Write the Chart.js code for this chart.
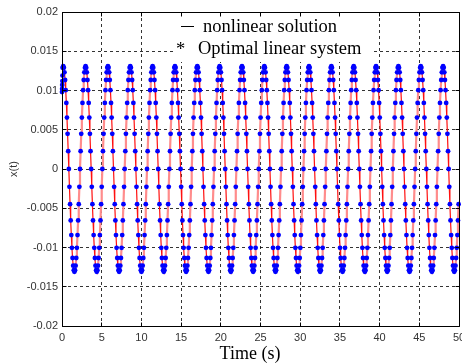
<!DOCTYPE html>
<html>
<head>
<meta charset="utf-8">
<script src="https://cdn.jsdelivr.net/npm/chart.js@4.4.1/dist/chart.umd.min.js"></script>
<style>
  html, body { margin: 0; padding: 0; background: #fff; overflow: hidden; }
  #wrap { width: 466px; height: 364px; }
</style>
</head>
<body>
<div id="wrap"><canvas id="grafico"></canvas></div>
<script>
const xTicks = [0, 5, 10, 15, 20, 25, 30, 35, 40, 45, 50];
const yTicks = [-0.02, -0.015, -0.01, -0.005, 0, 0.005, 0.01, 0.015, 0.02];
const legendLabels = ['nonlinear solution', 'Optimal linear system'];
const xTitle = 'Time (s)';
const yTitle = 'x(t)';

// first samples of the solver (dense steps right after t = 0)
const startT = [0, 0.015, 0.03, 0.045, 0.06];
const startX = [0.0098, 0.0102, 0.0107, 0.0112, 0.0119];

// response, one sample every dt seconds from t = dt
const dt = 0.078167;
const xValues = [0.0129,
0.0131,0.0129,0.01231,0.01134,0.01004,0.00842,0.00655,0.00448,0.00227,0,-0.00227,-0.00448,-0.00655,-0.00842,-0.01004,-0.01134,-0.01231,-0.0129,-0.0131,-0.0129,-0.01231,-0.01134,-0.01004,-0.00842,-0.00655,-0.00448,-0.00227,0,0.00227,0.00448,0.00655,0.00842,0.01004,0.01134,0.01231,0.0129,
0.0131,0.0129,0.01231,0.01134,0.01004,0.00842,0.00655,0.00448,0.00227,0,-0.00227,-0.00448,-0.00655,-0.00842,-0.01004,-0.01134,-0.01231,-0.0129,-0.0131,-0.0129,-0.01231,-0.01134,-0.01004,-0.00842,-0.00655,-0.00448,-0.00227,0,0.00227,0.00448,0.00655,0.00842,0.01004,0.01134,0.01231,0.0129,
0.0131,0.0129,0.01231,0.01134,0.01004,0.00842,0.00655,0.00448,0.00227,0,-0.00227,-0.00448,-0.00655,-0.00842,-0.01004,-0.01134,-0.01231,-0.0129,-0.0131,-0.0129,-0.01231,-0.01134,-0.01004,-0.00842,-0.00655,-0.00448,-0.00227,0,0.00227,0.00448,0.00655,0.00842,0.01004,0.01134,0.01231,0.0129,
0.0131,0.0129,0.01231,0.01134,0.01004,0.00842,0.00655,0.00448,0.00227,0,-0.00227,-0.00448,-0.00655,-0.00842,-0.01004,-0.01134,-0.01231,-0.0129,-0.0131,-0.0129,-0.01231,-0.01134,-0.01004,-0.00842,-0.00655,-0.00448,-0.00227,0,0.00227,0.00448,0.00655,0.00842,0.01004,0.01134,0.01231,0.0129,
0.0131,0.0129,0.01231,0.01134,0.01004,0.00842,0.00655,0.00448,0.00227,0,-0.00227,-0.00448,-0.00655,-0.00842,-0.01004,-0.01134,-0.01231,-0.0129,-0.0131,-0.0129,-0.01231,-0.01134,-0.01004,-0.00842,-0.00655,-0.00448,-0.00227,0,0.00227,0.00448,0.00655,0.00842,0.01004,0.01134,0.01231,0.0129,
0.0131,0.0129,0.01231,0.01134,0.01004,0.00842,0.00655,0.00448,0.00227,0,-0.00227,-0.00448,-0.00655,-0.00842,-0.01004,-0.01134,-0.01231,-0.0129,-0.0131,-0.0129,-0.01231,-0.01134,-0.01004,-0.00842,-0.00655,-0.00448,-0.00227,0,0.00227,0.00448,0.00655,0.00842,0.01004,0.01134,0.01231,0.0129,
0.0131,0.0129,0.01231,0.01134,0.01004,0.00842,0.00655,0.00448,0.00227,0,-0.00227,-0.00448,-0.00655,-0.00842,-0.01004,-0.01134,-0.01231,-0.0129,-0.0131,-0.0129,-0.01231,-0.01134,-0.01004,-0.00842,-0.00655,-0.00448,-0.00227,0,0.00227,0.00448,0.00655,0.00842,0.01004,0.01134,0.01231,0.0129,
0.0131,0.0129,0.01231,0.01134,0.01004,0.00842,0.00655,0.00448,0.00227,0,-0.00227,-0.00448,-0.00655,-0.00842,-0.01004,-0.01134,-0.01231,-0.0129,-0.0131,-0.0129,-0.01231,-0.01134,-0.01004,-0.00842,-0.00655,-0.00448,-0.00227,0,0.00227,0.00448,0.00655,0.00842,0.01004,0.01134,0.01231,0.0129,
0.0131,0.0129,0.01231,0.01134,0.01004,0.00842,0.00655,0.00448,0.00227,0,-0.00227,-0.00448,-0.00655,-0.00842,-0.01004,-0.01134,-0.01231,-0.0129,-0.0131,-0.0129,-0.01231,-0.01134,-0.01004,-0.00842,-0.00655,-0.00448,-0.00227,0,0.00227,0.00448,0.00655,0.00842,0.01004,0.01134,0.01231,0.0129,
0.0131,0.0129,0.01231,0.01134,0.01004,0.00842,0.00655,0.00448,0.00227,0,-0.00227,-0.00448,-0.00655,-0.00842,-0.01004,-0.01134,-0.01231,-0.0129,-0.0131,-0.0129,-0.01231,-0.01134,-0.01004,-0.00842,-0.00655,-0.00448,-0.00227,0,0.00227,0.00448,0.00655,0.00842,0.01004,0.01134,0.01231,0.0129,
0.0131,0.0129,0.01231,0.01134,0.01004,0.00842,0.00655,0.00448,0.00227,0,-0.00227,-0.00448,-0.00655,-0.00842,-0.01004,-0.01134,-0.01231,-0.0129,-0.0131,-0.0129,-0.01231,-0.01134,-0.01004,-0.00842,-0.00655,-0.00448,-0.00227,0,0.00227,0.00448,0.00655,0.00842,0.01004,0.01134,0.01231,0.0129,
0.0131,0.0129,0.01231,0.01134,0.01004,0.00842,0.00655,0.00448,0.00227,0,-0.00227,-0.00448,-0.00655,-0.00842,-0.01004,-0.01134,-0.01231,-0.0129,-0.0131,-0.0129,-0.01231,-0.01134,-0.01004,-0.00842,-0.00655,-0.00448,-0.00227,0,0.00227,0.00448,0.00655,0.00842,0.01004,0.01134,0.01231,0.0129,
0.0131,0.0129,0.01231,0.01134,0.01004,0.00842,0.00655,0.00448,0.00227,0,-0.00227,-0.00448,-0.00655,-0.00842,-0.01004,-0.01134,-0.01231,-0.0129,-0.0131,-0.0129,-0.01231,-0.01134,-0.01004,-0.00842,-0.00655,-0.00448,-0.00227,0,0.00227,0.00448,0.00655,0.00842,0.01004,0.01134,0.01231,0.0129,
0.0131,0.0129,0.01231,0.01134,0.01004,0.00842,0.00655,0.00448,0.00227,0,-0.00227,-0.00448,-0.00655,-0.00842,-0.01004,-0.01134,-0.01231,-0.0129,-0.0131,-0.0129,-0.01231,-0.01134,-0.01004,-0.00842,-0.00655,-0.00448,-0.00227,0,0.00227,0.00448,0.00655,0.00842,0.01004,0.01134,0.01231,0.0129,
0.0131,0.0129,0.01231,0.01134,0.01004,0.00842,0.00655,0.00448,0.00227,0,-0.00227,-0.00448,-0.00655,-0.00842,-0.01004,-0.01134,-0.01231,-0.0129,-0.0131,-0.0129,-0.01231,-0.01134,-0.01004,-0.00842,-0.00655,-0.00448,-0.00227,0,0.00227,0.00448,0.00655,0.00842,0.01004,0.01134,0.01231,0.0129,
0.0131,0.0129,0.01231,0.01134,0.01004,0.00842,0.00655,0.00448,0.00227,0,-0.00227,-0.00448,-0.00655,-0.00842,-0.01004,-0.01134,-0.01231,-0.0129,-0.0131,-0.0129,-0.01231,-0.01134,-0.01004,-0.00842,-0.00655,-0.00448,-0.00227,0,0.00227,0.00448,0.00655,0.00842,0.01004,0.01134,0.01231,0.0129,
0.0131,0.0129,0.01231,0.01134,0.01004,0.00842,0.00655,0.00448,0.00227,0,-0.00227,-0.00448,-0.00655,-0.00842,-0.01004,-0.01134,-0.01231,-0.0129,-0.0131,-0.0129,-0.01231,-0.01134,-0.01004,-0.00842,-0.00655,-0.00448,-0.00227,0,0.00227,0.00448,0.00655,0.00842,0.01004,0.01134,0.01231,0.0129,
0.0131,0.0129,0.01231,0.01134,0.01004,0.00842,0.00655,0.00448,0.00227,0,-0.00227,-0.00448,-0.00655,-0.00842,-0.01004,-0.01134,-0.01231,-0.0129,-0.0131,-0.0129,-0.01231,-0.01134,-0.01004,-0.00842,-0.00655,-0.00448
];

// same samples for both curves (they coincide on the plot)
const pontos = startT.map((t, i) => ({ x: t, y: startX[i] }))
  .concat(xValues.map((v, k) => ({ x: (k + 1) * dt, y: v })));

const al = p => Math.round(p - 0.5) + 0.5;

// legend box, frame and inward ticks like the matlab figure
const decor = {
  id: 'decor',
  afterDatasetsDraw(chart) {
    const c = chart.ctx;
    c.save();
    c.fillStyle = '#fff';
    c.fillRect(175, 13, 198, 49);
    c.strokeStyle = '#000';
    c.lineWidth = 1;
    c.beginPath();
    c.moveTo(181, 26.5);
    c.lineTo(194, 26.5);
    c.stroke();
    c.fillStyle = '#000';
    c.font = '18.5px "Liberation Serif", "Times New Roman", serif';
    c.textBaseline = 'alphabetic';
    c.textAlign = 'left';
    c.fillText(legendLabels[0], 203, 32);
    c.fillText('*', 176, 55);
    c.fillText(legendLabels[1], 198, 54);
    c.restore();
  },
  afterDraw(chart) {
    const c = chart.ctx;
    const { left, top, right, bottom } = chart.chartArea;
    const L = al(left), T = al(top), R = al(right), B = al(bottom);
    c.save();
    c.strokeStyle = '#000';
    c.lineWidth = 1;
    c.beginPath();
    c.rect(L, T, R - L, B - T);
    xTicks.forEach(v => {
      const px = al(chart.scales.x.getPixelForValue(v));
      c.moveTo(px, B); c.lineTo(px, B - 4);
      c.moveTo(px, T); c.lineTo(px, T + 4);
    });
    yTicks.forEach(v => {
      const py = al(chart.scales.y.getPixelForValue(v));
      c.moveTo(L, py); c.lineTo(L + 4, py);
      c.moveTo(R, py); c.lineTo(R - 4, py);
    });
    c.stroke();
    c.fillStyle = '#000';
    c.font = '18px "Liberation Serif", "Times New Roman", serif';
    c.textAlign = 'center';
    c.textBaseline = 'alphabetic';
    c.fillText(xTitle, 250, 359);
    c.restore();
  }
};

const ctx = document.getElementById('grafico');
new Chart(ctx, {
  type: 'line',
  data: {
    datasets: [{
      label: legendLabels[1],
      data: pontos,
      showLine: false,
      pointRadius: 2.4,
      pointBorderWidth: 0,
      pointBackgroundColor: '#0000ff',
      clip: false,
      order: 0
    }, {
      label: legendLabels[0],
      data: pontos,
      pointRadius: 0,
      borderColor: '#ff0000',
      borderWidth: 1.2,
      tension: 0,
      order: 1,
      segment: {
        borderColor: s => s.p1.parsed.y > s.p0.parsed.y ? '#ff8c8c' : '#ff1010',
        borderWidth: s => s.p1.parsed.y > s.p0.parsed.y ? 2.2 : 1.2
      }
    }]
  },
  options: {
    animation: false,
    responsive: true,
    maintainAspectRatio: false,
    layout: { padding: { top: 12, right: 7, bottom: 0, left: 0 } },
    plugins: {
      legend: { display: false },
      tooltip: { enabled: false }
    },
    scales: {
      x: {
        type: 'linear',
        min: 0,
        max: 50,
        afterBuildTicks: s => { s.ticks = xTicks.map(v => ({ value: v })); },
        afterFit: s => { s.height = 38; s.paddingLeft = 0; s.paddingRight = 0; },
        grid: { color: 'rgba(0,0,0,0.8)', lineWidth: 1, drawTicks: false },
        border: { display: false, dash: [3, 3] },
        ticks: {
          padding: 5,
          color: '#333',
          maxRotation: 0,
          font: { family: '"Liberation Sans", Arial, sans-serif', size: 11 },
          callback: v => String(v)
        }
      },
      y: {
        type: 'linear',
        min: -0.02,
        max: 0.02,
        afterBuildTicks: s => { s.ticks = yTicks.map(v => ({ value: v })); },
        afterFit: s => { s.width = 62; },
        grid: { color: 'rgba(0,0,0,0.8)', lineWidth: 1, drawTicks: false },
        border: { display: false, dash: [3, 3] },
        title: {
          display: true,
          text: yTitle,
          color: '#333',
          padding: { top: 7, bottom: 0 },
          font: { family: '"Liberation Sans", Arial, sans-serif', size: 11 }
        },
        ticks: {
          padding: 4,
          color: '#333',
          font: { family: '"Liberation Sans", Arial, sans-serif', size: 11 },
          callback: v => String(+Number(v).toFixed(3))
        }
      }
    }
  },
  plugins: [decor]
});
</script>
</body>
</html>
